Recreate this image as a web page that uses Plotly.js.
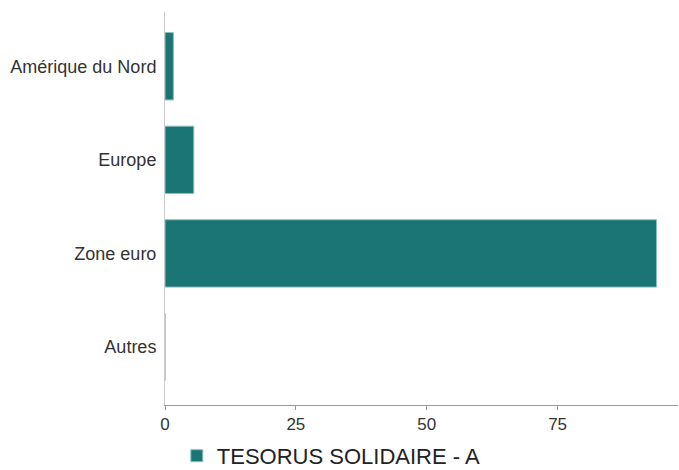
<!DOCTYPE html>
<html>
<head>
<meta charset="utf-8">
<script src="https://cdn.plot.ly/plotly-3.0.1.min.js"></script>
<style>
  html, body { margin: 0; padding: 0; background: #fff; }
  #chart { width: 679px; height: 470px; }
</style>
</head>
<body>
<div id="chart"></div>
<script>
// regions, top to bottom
const regions = ["Amérique du Nord", "Europe", "Zone euro", "Autres"];
const weights = [1.6, 5.5, 93.9, 0];
const seriesName = "TESORUS SOLIDAIRE - A";

const barColor = "#1b7574";

Plotly.newPlot(
  "chart",
  [
    {
      type: "bar",
      orientation: "h",
      y: regions,
      x: weights,
      name: seriesName,
      width: 0.72,
      marker: { color: barColor, line: { color: "#8fc0be", width: 1 } },
      hoverinfo: "x+y",
    },
  ],
  {
    width: 679,
    height: 470,
    margin: { l: 165, r: 1, t: 12, b: 65 },
    paper_bgcolor: "#fff",
    plot_bgcolor: "#fff",
    font: { family: "Liberation Sans, Arial, sans-serif", size: 17, color: "#333" },
    showlegend: true,
    legend: {
      orientation: "h",
      x: 0.023,
      xanchor: "left",
      yref: "container",
      y: 0.03,
      yanchor: "middle",
      font: { size: 22, color: "#222" },
    },
    xaxis: {
      range: [0, 98],
      tickvals: [0, 25, 50, 75],
      tickfont: { size: 17 },
      showgrid: false,
      zeroline: false,
      showline: true,
      linecolor: "#999",
      linewidth: 1,
      ticks: "outside",
      ticklen: 4,
      tickcolor: "#999",
      fixedrange: true,
    },
    yaxis: {
      autorange: false,
      range: [3.62, -0.58],
      tickfont: { size: 18 },
      showgrid: false,
      zeroline: false,
      showline: true,
      linecolor: "#ccc",
      linewidth: 1,
      ticks: "",
      ticklabelstandoff: 4,
      fixedrange: true,
    },
  },
  { displayModeBar: false, staticPlot: true }
);
</script>
</body>
</html>
